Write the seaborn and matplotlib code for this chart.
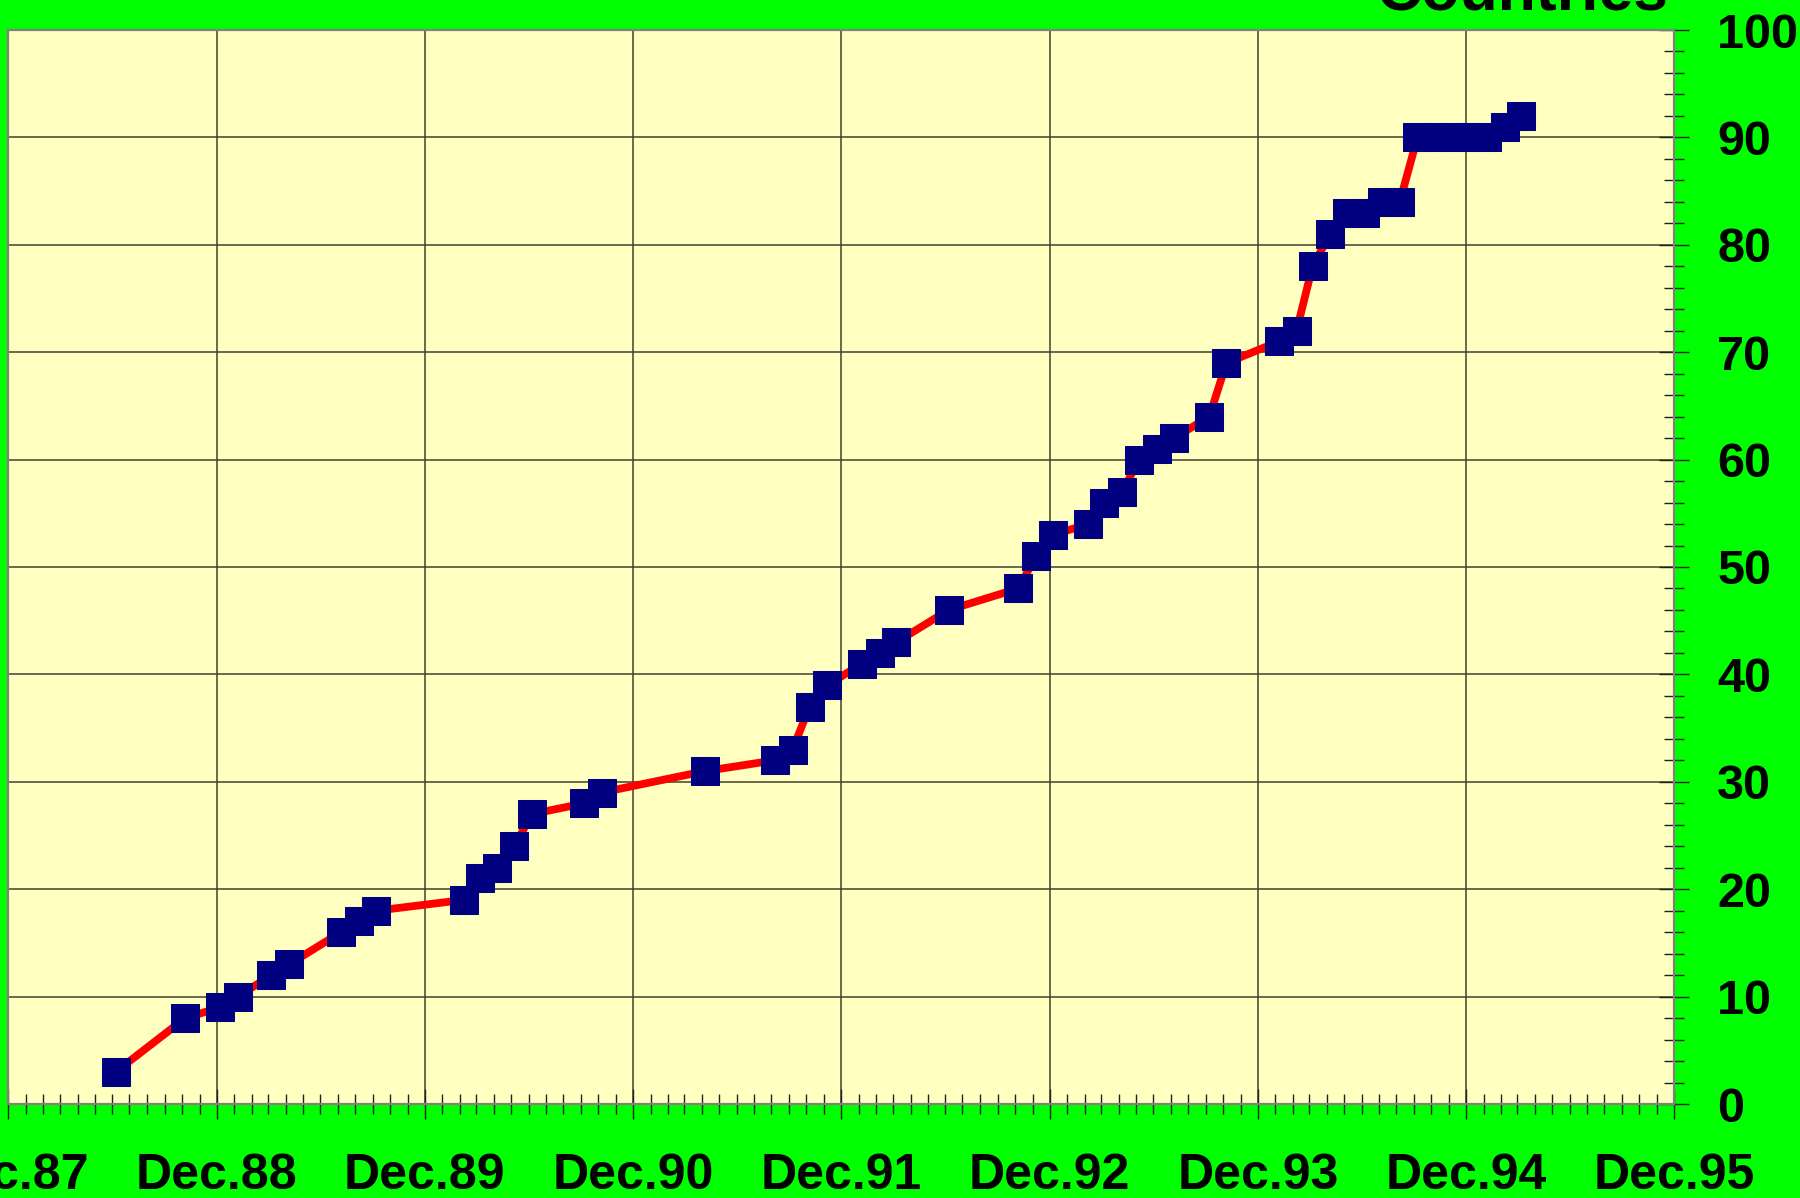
import numpy as np
import pandas as pd
import seaborn as sns
import matplotlib.pyplot as plt
import matplotlib.dates as mdates

# number of countries connected
dates = ['1988-06-07', '1988-10-07', '1988-12-07',
         '1989-01-07', '1989-03-07', '1989-04-07', '1989-07-07', '1989-08-07', '1989-09-07',
         '1990-02-07', '1990-03-07', '1990-04-07', '1990-05-07', '1990-06-07', '1990-09-07', '1990-10-07',
         '1991-04-07', '1991-08-07', '1991-09-07', '1991-10-07', '1991-11-07',
         '1992-01-07', '1992-02-07', '1992-03-07', '1992-06-07', '1992-10-07', '1992-11-07', '1992-12-07',
         '1993-02-07', '1993-03-07', '1993-04-07', '1993-05-07', '1993-06-07', '1993-07-07', '1993-09-07', '1993-10-07',
         '1994-01-07', '1994-02-07', '1994-03-07', '1994-04-07', '1994-05-07', '1994-06-07',
         '1994-07-07', '1994-08-07', '1994-09-07', '1994-10-07', '1994-11-07', '1994-12-07',
         '1995-01-07', '1995-02-07', '1995-03-07']
countries = [3, 8, 9,
             10, 12, 13, 16, 17, 18,
             19, 21, 22, 24, 27, 28, 29,
             31, 32, 33, 37, 39,
             41, 42, 43, 46, 48, 51, 53,
             54, 56, 57, 60, 61, 62, 64, 69,
             71, 72, 78, 81, 83, 83,
             84, 84, 90, 90, 90, 90,
             90, 91, 92]
title = 'Countries'

data = pd.DataFrame({'date': pd.to_datetime(dates), 'countries': countries})

sns.set_style('white')
plt.rcParams['font.family'] = ['Liberation Sans', 'DejaVu Sans']
plt.rcParams['font.weight'] = 'bold'
plt.rcParams['text.color'] = 'black'
plt.rcParams['xtick.color'] = 'black'
plt.rcParams['ytick.color'] = 'black'

fig = plt.figure(figsize=(18, 11.98), dpi=100, facecolor='#00FF00')
ax = fig.add_axes([8/1800, 94/1198, 1666/1800, 1074/1198])
ax.set_facecolor('#FFFFC0')

sns.lineplot(data=data, x='date', y='countries', ax=ax, color='#FF0000', lw=5.6,
             marker='s', markersize=19.5, markerfacecolor='#000080', markeredgecolor='#000080',
             zorder=3)

ax.set_xlim(pd.Timestamp('1987-12-01'), pd.Timestamp('1995-12-01'))
ax.set_ylim(0, 100)
ax.xaxis.set_major_locator(mdates.MonthLocator(bymonth=12))
ax.xaxis.set_major_formatter(mdates.DateFormatter('Dec.%y'))
ax.xaxis.set_minor_locator(mdates.MonthLocator())
ax.set_yticks(np.arange(0, 101, 10))
ax.set_yticks(np.arange(0, 101, 2), minor=True)
ax.yaxis.tick_right()

ax.grid(True, which='major', color='#404030', lw=1.1, zorder=1)
ax.set_axisbelow(True)
for s in ax.spines.values():
    s.set_color('#808080')
    s.set_linewidth(1.6)
    s.set_visible(True)

ax.tick_params(which='both', bottom=True, right=True, left=False, top=False)
ax.tick_params(which='major', direction='inout', length=22, width=1, color='#202020',
               labelsize=36, labelcolor='black')
ax.tick_params(which='minor', direction='inout', length=15, width=1, color='#202020')
ax.tick_params(axis='x', which='major', pad=24)
ax.tick_params(axis='y', which='major', pad=20, labelsize=35)
ax.set_xlabel('')
ax.set_ylabel('')

fig.text(1668/1800, 1188/1198, title, ha='right', va='baseline', fontsize=45,
         fontweight='bold', color='black')

fig.savefig('out.png', dpi=100, facecolor=fig.get_facecolor())
